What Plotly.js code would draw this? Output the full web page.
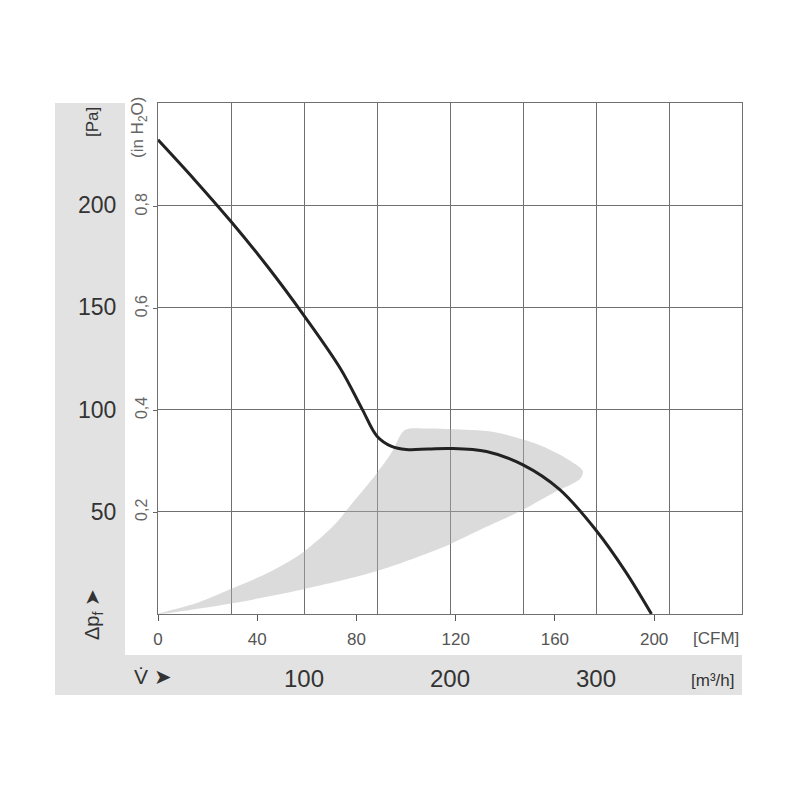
<!DOCTYPE html>
<html><head><meta charset="utf-8">
<script src="https://cdn.plot.ly/plotly-3.0.1.min.js"></script>
<style>html,body{margin:0;padding:0;background:#fff}#chart{width:800px;height:800px}</style>
</head><body><div id="chart"></div>
<script>
// Fan curve: volume flow (m³/h) vs static pressure (Pa)
const flowM3h = [0, 25, 50, 75, 100, 125, 140, 150, 160, 170, 185, 200, 225, 250, 275, 300, 320, 338];
const pressurePa = [232, 212.5, 192, 170, 146, 120, 100, 87, 82, 80.5, 80.7, 81, 79.5, 73, 61, 41, 21, 0];
// Grey operating band outline (m³/h, Pa)
const bandX = [0, 25, 49, 75, 99, 120, 134, 150, 160, 169, 185, 200, 230, 260, 280, 291, 289, 270, 250, 220, 193, 150, 99, 49, 0];
const bandY = [0, 5, 12, 20, 30, 43, 55, 69, 79, 90, 90.8, 90.5, 89, 83, 76, 70, 66, 59, 51, 41, 32, 21, 12, 5, 0];
// Tick labels
const paTicks = [50, 100, 150, 200];
const inH2OTicks = [0.2, 0.4, 0.6, 0.8];
const inH2OLabels = ['0,2', '0,4', '0,6', '0,8'];
const cfmTicks = [0, 40, 80, 120, 160, 200];
const m3hTicks = [100, 200, 300];

const PA_PER_INH2O = 249.089;
const M3H_PER_CFM = 1.699;
const F = 'Liberation Sans, Arial, sans-serif';

const traces = [
  {x: bandX, y: bandY, type: 'scatter', mode: 'lines', fill: 'toself',
   fillcolor: 'rgba(175,175,175,0.45)', line: {width: 0, shape: 'spline', smoothing: 0.8},
   hoverinfo: 'skip', showlegend: false},
  {x: flowM3h, y: pressurePa, type: 'scatter', mode: 'lines',
   line: {color: '#222', width: 3, shape: 'spline', smoothing: 1}, showlegend: false},
  {x: [0], y: [0], xaxis: 'x2', yaxis: 'y2', mode: 'markers', marker: {opacity: 0}, hoverinfo: 'skip', showlegend: false},
  {x: [0], y: [0], xaxis: 'x3', yaxis: 'y', mode: 'markers', marker: {opacity: 0}, hoverinfo: 'skip', showlegend: false}
];

const xDom = [(158-55)/687, 1];
const yDom = [(700-614)/597, 1];
const px = v => (v-55)/687;
const py = v => (700-v)/597;

const layout = {
  width: 800, height: 800,
  margin: {l: 55, r: 58, t: 103, b: 100},
  paper_bgcolor: '#fff', plot_bgcolor: 'rgba(0,0,0,0)',
  font: {family: F, color: '#333'},
  xaxis: {domain: xDom, range: [0, 400], dtick: 50, showgrid: true, gridcolor: '#707070', gridwidth: 1,
          showticklabels: false, ticks: '', zeroline: false, showline: true, mirror: true,
          linecolor: '#707070', linewidth: 1, anchor: 'y', fixedrange: true},
  yaxis: {domain: yDom, range: [0, 250], tickvals: paTicks, showgrid: true, gridcolor: '#707070', gridwidth: 1,
          zeroline: false, showline: true, mirror: true, linecolor: '#707070', linewidth: 1, ticks: '',
          ticklabelstandoff: 36, tickfont: {size: 23, color: '#333', family: F}, anchor: 'x'},
  yaxis2: {overlaying: 'y', side: 'left', anchor: 'x', range: [0, 250/PA_PER_INH2O],
           tickvals: inH2OTicks, ticktext: inH2OLabels, tickangle: -90, ticks: 'outside', ticklen: 4,
           tickcolor: '#666', showgrid: false, zeroline: false, showline: false,
           tickfont: {size: 16, color: '#666', family: F}},
  xaxis2: {overlaying: 'x', side: 'bottom', anchor: 'y', range: [0, 400/M3H_PER_CFM],
           tickvals: cfmTicks, ticks: 'outside', ticklen: 6, tickcolor: '#555', showgrid: false,
           ticklabelstandoff: 4,
           zeroline: false, showline: false, tickfont: {size: 17, color: '#555', family: F}},
  xaxis3: {overlaying: 'x', side: 'bottom', anchor: 'free', position: py(662), range: [0, 400],
           tickvals: m3hTicks, ticks: '', showgrid: false, zeroline: false, showline: false,
           tickfont: {size: 24, color: '#333', family: F}},
  shapes: [
    {type: 'rect', xref: 'paper', yref: 'paper', x0: px(55), x1: px(125), y0: py(655), y1: py(103),
     fillcolor: '#e2e2e2', line: {width: 0}, layer: 'below'},
    {type: 'rect', xref: 'paper', yref: 'paper', x0: px(55), x1: px(742), y0: py(695), y1: py(655),
     fillcolor: '#e2e2e2', line: {width: 0}, layer: 'below'}
  ],
  annotations: [
    {text: '[Pa]', xref: 'paper', yref: 'paper', x: px(93), y: py(122), textangle: -90, showarrow: false,
     font: {size: 17, color: '#333'}, xanchor: 'center', yanchor: 'middle'},
    {text: '(in H<sub>2</sub>O)', xref: 'paper', yref: 'paper', x: px(139), y: py(128), textangle: -90, showarrow: false,
     font: {size: 17, color: '#666'}, xanchor: 'center', yanchor: 'middle'},
    {text: 'Δp<sub>f</sub> ➤', xref: 'paper', yref: 'paper', x: px(93), y: py(615), textangle: -90, showarrow: false,
     font: {size: 20, color: '#333'}, xanchor: 'center', yanchor: 'middle'},
    {text: '[CFM]', xref: 'paper', yref: 'paper', x: px(716), y: py(638), showarrow: false,
     font: {size: 17, color: '#555'}, xanchor: 'center', yanchor: 'middle'},
    {text: '[m³/h]', xref: 'paper', yref: 'paper', x: px(712), y: py(680), showarrow: false,
     font: {size: 17, color: '#333'}, xanchor: 'center', yanchor: 'middle'},
    {text: 'V̇ ➤', xref: 'paper', yref: 'paper', x: px(153), y: py(676), showarrow: false,
     font: {size: 21, color: '#333'}, xanchor: 'center', yanchor: 'middle'}
  ]
};

Plotly.newPlot('chart', traces, layout, {staticPlot: true, displayModeBar: false});
</script></body></html>
